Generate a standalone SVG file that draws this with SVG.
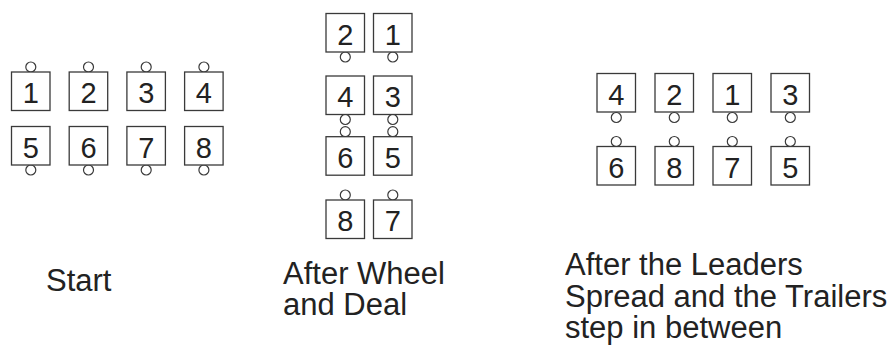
<svg xmlns="http://www.w3.org/2000/svg" width="890" height="345" viewBox="0 0 890 345">
  <style>
    .card { fill: #ffffff; stroke: #3a3a3a; stroke-width: 1.3; }
    .hand { fill: #ffffff; stroke: #3a3a3a; stroke-width: 1.2; }
    .num { font-family: "Liberation Sans", Arial, sans-serif; font-size: 29px; fill: #222222; text-anchor: middle; }
    .caption { font-family: "Liberation Sans", Arial, sans-serif; font-size: 31px; fill: #222222; }
  </style>

  <!-- Start: two rows of four; leaders face up, trailers face down -->
  <g id="start">
    <g id="s1"><circle class="hand" cx="30.8" cy="67" r="5"/><rect class="card" x="11.5" y="72" width="38.5" height="38.5"/><text class="num" x="30.8" y="103.3">1</text></g>
    <g id="s2"><circle class="hand" cx="88.5" cy="67" r="5"/><rect class="card" x="69.2" y="72" width="38.5" height="38.5"/><text class="num" x="88.5" y="103.3">2</text></g>
    <g id="s3"><circle class="hand" cx="146.2" cy="67" r="5"/><rect class="card" x="126.9" y="72" width="38.5" height="38.5"/><text class="num" x="146.2" y="103.3">3</text></g>
    <g id="s4"><circle class="hand" cx="203.9" cy="67" r="5"/><rect class="card" x="184.6" y="72" width="38.5" height="38.5"/><text class="num" x="203.9" y="103.3">4</text></g>
    <g id="s5"><circle class="hand" cx="30.8" cy="170" r="5"/><rect class="card" x="11.5" y="126.5" width="38.5" height="38.5"/><text class="num" x="30.8" y="157.8">5</text></g>
    <g id="s6"><circle class="hand" cx="88.5" cy="170" r="5"/><rect class="card" x="69.2" y="126.5" width="38.5" height="38.5"/><text class="num" x="88.5" y="157.8">6</text></g>
    <g id="s7"><circle class="hand" cx="146.2" cy="170" r="5"/><rect class="card" x="126.9" y="126.5" width="38.5" height="38.5"/><text class="num" x="146.2" y="157.8">7</text></g>
    <g id="s8"><circle class="hand" cx="203.9" cy="170" r="5"/><rect class="card" x="184.6" y="126.5" width="38.5" height="38.5"/><text class="num" x="203.9" y="157.8">8</text></g>
  </g>

  <!-- After Wheel and Deal: two columns of four -->
  <g id="wheel">
    <g id="w2"><circle class="hand" cx="345.3" cy="57" r="5"/><rect class="card" x="326" y="13.5" width="38.5" height="38.5"/><text class="num" x="345.3" y="44.8">2</text></g>
    <g id="w1"><circle class="hand" cx="392.8" cy="57" r="5"/><rect class="card" x="373.5" y="13.5" width="38.5" height="38.5"/><text class="num" x="392.8" y="44.8">1</text></g>
    <g id="w4"><circle class="hand" cx="345.3" cy="119.5" r="5"/><rect class="card" x="326" y="76" width="38.5" height="38.5"/><text class="num" x="345.3" y="107.3">4</text></g>
    <g id="w3"><circle class="hand" cx="392.8" cy="119.5" r="5"/><rect class="card" x="373.5" y="76" width="38.5" height="38.5"/><text class="num" x="392.8" y="107.3">3</text></g>
    <g id="w6"><circle class="hand" cx="345.3" cy="131.7" r="5"/><rect class="card" x="326" y="136.7" width="38.5" height="38.5"/><text class="num" x="345.3" y="168">6</text></g>
    <g id="w5"><circle class="hand" cx="392.8" cy="131.7" r="5"/><rect class="card" x="373.5" y="136.7" width="38.5" height="38.5"/><text class="num" x="392.8" y="168">5</text></g>
    <g id="w8"><circle class="hand" cx="345.3" cy="195" r="5"/><rect class="card" x="326" y="200" width="38.5" height="38.5"/><text class="num" x="345.3" y="231.3">8</text></g>
    <g id="w7"><circle class="hand" cx="392.8" cy="195" r="5"/><rect class="card" x="373.5" y="200" width="38.5" height="38.5"/><text class="num" x="392.8" y="231.3">7</text></g>
  </g>

  <!-- After the leaders spread: two facing rows of four -->
  <g id="spread">
    <g id="p4"><circle class="hand" cx="616.3" cy="117.5" r="5"/><rect class="card" x="597" y="73.5" width="38.5" height="38.5"/><text class="num" x="616.3" y="104.8">4</text></g>
    <g id="p2"><circle class="hand" cx="674.3" cy="117.5" r="5"/><rect class="card" x="655" y="73.5" width="38.5" height="38.5"/><text class="num" x="674.3" y="104.8">2</text></g>
    <g id="p1"><circle class="hand" cx="732.3" cy="117.5" r="5"/><rect class="card" x="713" y="73.5" width="38.5" height="38.5"/><text class="num" x="732.3" y="104.8">1</text></g>
    <g id="p3"><circle class="hand" cx="790.3" cy="117.5" r="5"/><rect class="card" x="771" y="73.5" width="38.5" height="38.5"/><text class="num" x="790.3" y="104.8">3</text></g>
    <g id="p6"><circle class="hand" cx="616.3" cy="141.5" r="5"/><rect class="card" x="597" y="146.5" width="38.5" height="38.5"/><text class="num" x="616.3" y="177.8">6</text></g>
    <g id="p8"><circle class="hand" cx="674.3" cy="141.5" r="5"/><rect class="card" x="655" y="146.5" width="38.5" height="38.5"/><text class="num" x="674.3" y="177.8">8</text></g>
    <g id="p7"><circle class="hand" cx="732.3" cy="141.5" r="5"/><rect class="card" x="713" y="146.5" width="38.5" height="38.5"/><text class="num" x="732.3" y="177.8">7</text></g>
    <g id="p5"><circle class="hand" cx="790.3" cy="141.5" r="5"/><rect class="card" x="771" y="146.5" width="38.5" height="38.5"/><text class="num" x="790.3" y="177.8">5</text></g>
  </g>

  <!-- connectors: none in this figure -->
  <g id="connectors"/>

  <!-- captions -->
  <g id="captions">
    <text class="caption" x="46" y="291">Start</text>
    <text class="caption" x="283" y="283.5">After Wheel</text>
    <text class="caption" x="283" y="315">and Deal</text>
    <text class="caption" x="565" y="275">After the Leaders</text>
    <text class="caption" x="565" y="306.5">Spread and the Trailers</text>
    <text class="caption" x="565" y="337.5">step in between</text>
  </g>
</svg>
